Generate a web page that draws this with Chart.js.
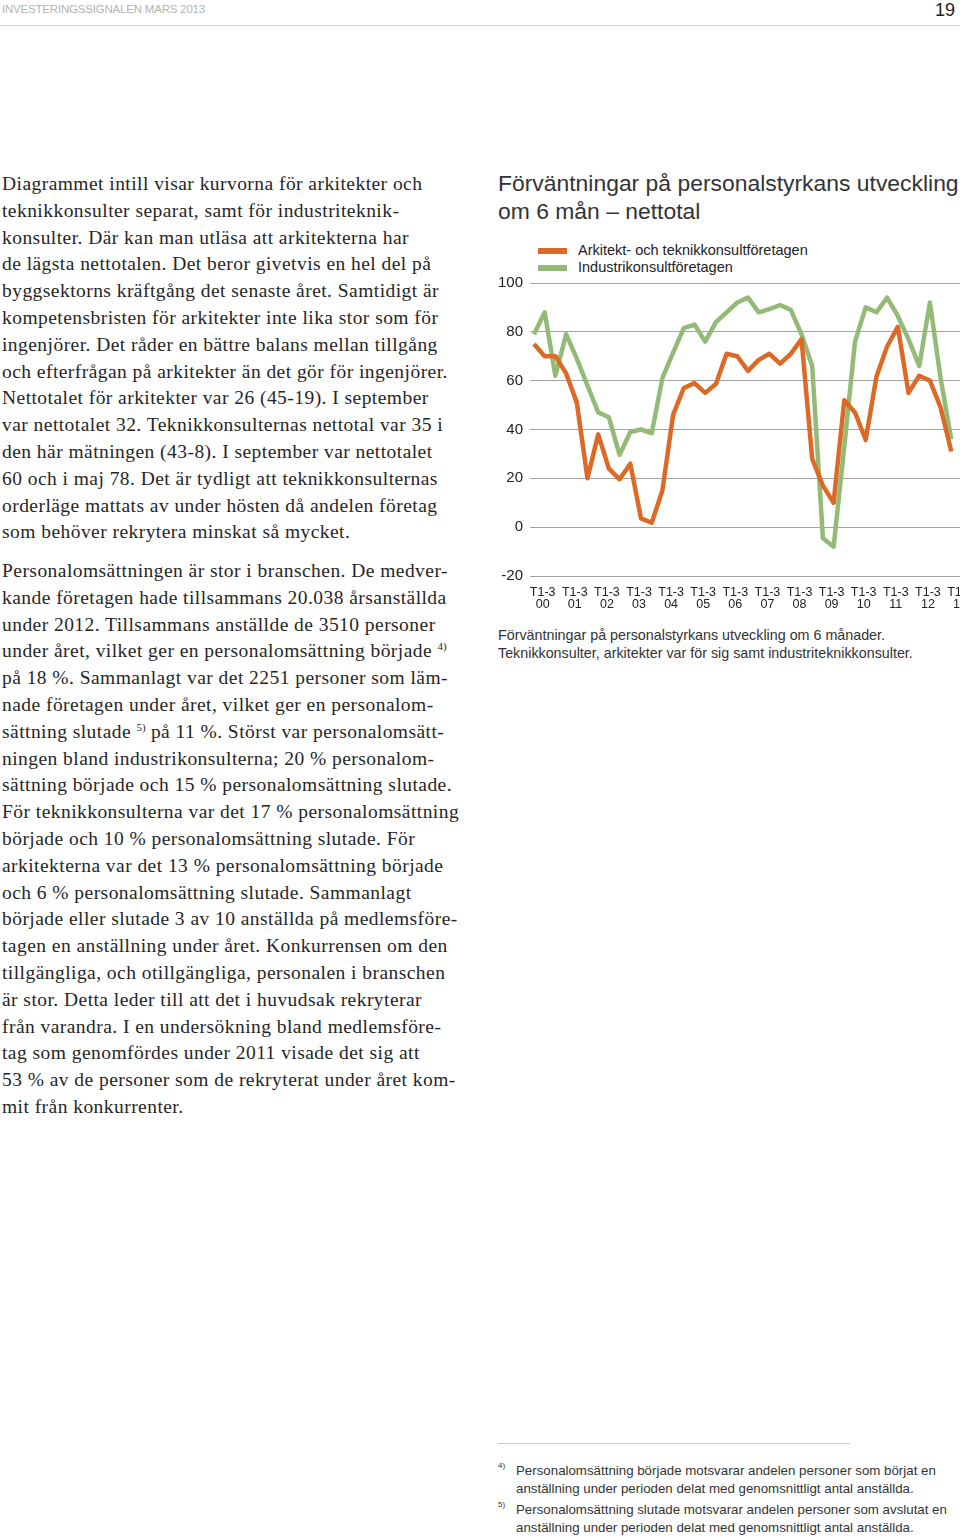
<!DOCTYPE html>
<html lang="sv">
<head>
<meta charset="utf-8">
<title>Investeringssignalen mars 2013 – sid 19</title>
<script src="https://cdn.jsdelivr.net/npm/chart.js@4.4.1/dist/chart.umd.min.js"></script>
<style>
    html, body { margin: 0; padding: 0; width: 960px; height: 1539px; overflow: hidden; background: #fff; }
    body { position: relative; font-family: "Liberation Sans", Arial, Helvetica, sans-serif; color: #2a2a2a; }
    .abs { position: absolute; }
    #head-left { left: 2px; top: 3px; font-size: 11.5px; color: #b4b4b4; letter-spacing: -0.2px; }
    #head-num { right: 5px; top: 0px; font-size: 18px; color: #222; }
    #head-rule { left: 0; top: 25px; width: 960px; height: 1px; background: #d0d0d0; }
    .serif { font-family: "Liberation Serif", "Times New Roman", serif; font-size: 19.5px; letter-spacing: 0.45px; line-height: 26.8px; color: #262626; white-space: nowrap; left: 2px; }
    #p1 { top: 171px; }
    #p2 { top: 558px; }
    sup { font-size: 11px; line-height: 0; vertical-align: 7px; letter-spacing: 0; }
    #title { left: 498px; top: 169px; font-size: 22.9px; line-height: 28px; color: #333; white-space: nowrap; }
    .legend-item { left: 538px; font-size: 14.5px; color: #222; white-space: nowrap; }
    .swatch { position: absolute; left: 0; top: 5px; width: 29px; height: 6px; }
    .legend-item span { position: absolute; left: 40px; top: -1px; }
    #chart-wrap { left: 496px; top: 240px; width: 464px; height: 380px; overflow: hidden; }
    #caption { left: 498px; top: 626px; font-size: 14.3px; line-height: 18px; color: #333; white-space: nowrap; }
    #foot-rule { left: 498px; top: 1443px; width: 352px; height: 1px; background: #cfcfcf; }
    .fn { left: 498px; font-size: 13.3px; line-height: 18px; color: #333; white-space: nowrap; }
    .fn b { position: absolute; left: 0; top: -5px; font-weight: normal; font-size: 8px; }
    .fn span { position: absolute; left: 18px; top: 0; }
</style>
</head>
<body>
<div class="abs" id="head-left">INVESTERINGSSIGNALEN MARS 2013</div>
<div class="abs" id="head-num">19</div>
<div class="abs" id="head-rule"></div>

<div class="abs serif" id="p1">Diagrammet intill visar kurvorna för arkitekter och<br>teknikkonsulter separat, samt för industriteknik-<br>konsulter. Där kan man utläsa att arkitekterna har<br>de lägsta nettotalen. Det beror givetvis en hel del på<br>byggsektorns kräftgång det senaste året. Samtidigt är<br>kompetensbristen för arkitekter inte lika stor som för<br>ingenjörer. Det råder en bättre balans mellan tillgång<br>och efterfrågan på arkitekter än det gör för ingenjörer.<br>Nettotalet för arkitekter var 26 (45-19). I september<br>var nettotalet 32. Teknikkonsulternas nettotal var 35 i<br>den här mätningen (43-8). I september var nettotalet<br>60 och i maj 78. Det är tydligt att teknikkonsulternas<br>orderläge mattats av under hösten då andelen företag<br>som behöver rekrytera minskat så mycket.</div>

<div class="abs serif" id="p2">Personalomsättningen är stor i branschen. De medver-<br>kande företagen hade tillsammans 20.038 årsanställda<br>under 2012. Tillsammans anställde de 3510 personer<br>under året, vilket ger en personalomsättning började <sup>4)</sup><br>på 18 %. Sammanlagt var det 2251 personer som läm-<br>nade företagen under året, vilket ger en personalom-<br>sättning slutade <sup>5)</sup> på 11 %. Störst var personalomsätt-<br>ningen bland industrikonsulterna; 20 % personalom-<br>sättning började och 15 % personalomsättning slutade.<br>För teknikkonsulterna var det 17 % personalomsättning<br>började och 10 % personalomsättning slutade. För<br>arkitekterna var det 13 % personalomsättning började<br>och 6 % personalomsättning slutade. Sammanlagt<br>började eller slutade 3 av 10 anställda på medlemsföre-<br>tagen en anställning under året. Konkurrensen om den<br>tillgängliga, och otillgängliga, personalen i branschen<br>är stor. Detta leder till att det i huvudsak rekryterar<br>från varandra. I en undersökning bland medlemsföre-<br>tag som genomfördes under 2011 visade det sig att<br>53 % av de personer som de rekryterat under året kom-<br>mit från konkurrenter.</div>

<div class="abs" id="title">Förväntningar på personalstyrkans utveckling<br>om 6 mån – nettotal</div>

<div class="abs legend-item" style="top:243px"><div class="swatch" style="background:#dc6a26"></div><span>Arkitekt- och teknikkonsultföretagen</span></div>
<div class="abs legend-item" style="top:260px"><div class="swatch" style="background:#93ba77"></div><span>Industrikonsultföretagen</span></div>

<div class="abs" id="chart-wrap"><canvas id="netto" width="466" height="380"></canvas></div>

<div class="abs" id="caption">Förväntningar på personalstyrkans utveckling om 6 månader.<br>Teknikkonsulter, arkitekter var för sig samt industriteknikkonsulter.</div>

<div class="abs" id="foot-rule"></div>
<div class="abs fn" style="top:1462px"><b>4)</b><span>Personalomsättning började motsvarar andelen personer som börjat en<br>anställning under perioden delat med genomsnittligt antal anställda.</span></div>
<div class="abs fn" style="top:1501px"><b>5)</b><span>Personalomsättning slutade motsvarar andelen personer som avslutat en<br>anställning under perioden delat med genomsnittligt antal anställda.</span></div>

<script>
    // tre mätningar per år, etikett vid första mätningen varje år
    const tickYears = ['00', '01', '02', '03', '04', '05', '06', '07', '08', '09', '10', '11', '12', '13'];
    const tickPrefix = 'T1-3';

    const arkitektTeknik = [
        75, 70, 70, 63, 51, 20, 38, 24, 19.6, 26,
        3.6, 1.8, 15, 46, 57, 59, 55, 58.6, 71, 70,
        64, 68.5, 71, 67, 71, 77, 28, 17, 10, 52,
        47, 35.7, 61.6, 74, 82, 55, 62, 60, 49, 31
    ];
    const industrikonsult = [
        79, 88, 62, 79, 69, 58, 47, 45, 29.6, 39,
        40, 38.5, 61, 71.5, 81.5, 83, 76, 84, 88, 92,
        94, 88, 89.3, 91, 89, 79, 66, -4.5, -8, 33,
        76, 90, 88, 94, 86.5, 77, 66, 92, 61, 36
    ];

    const yTicks = [-20, 0, 20, 40, 60, 80, 100];

    // kategorier: en per mätning, plus en sista plats för 13-etiketten
    let categories = [];
    for (let i = 0; i <= arkitektTeknik.length; i++) {
        categories.push((i - 1) % 3 === 0 ? tickPrefix + ' ' + tickYears[(i - 1) / 3] : '');
    }

    const ctx = document.getElementById('netto').getContext('2d');
    new Chart(ctx, {
        type: 'line',
        data: {
            labels: categories,
            datasets: [
                {
                    label: 'Arkitekt- och teknikkonsultföretagen',
                    data: arkitektTeknik,
                    borderColor: '#dc6a26',
                    backgroundColor: '#dc6a26',
                    borderWidth: 4.5,
                    pointRadius: 0,
                    tension: 0,
                    fill: false,
                },
                {
                    label: 'Industrikonsultföretagen',
                    data: industrikonsult,
                    borderColor: '#93ba77',
                    backgroundColor: '#93ba77',
                    borderWidth: 4.5,
                    pointRadius: 0,
                    tension: 0,
                    fill: false,
                }],
        },
        options: {
            responsive: false,
            animation: false,
            devicePixelRatio: 1,
            layout: {
                padding: { top: 43, right: 0, bottom: 0, left: 0 },
            },
            elements: {
                line: { borderJoinStyle: 'round', borderCapStyle: 'butt' },
            },
            plugins: {
                legend: { display: false },
                tooltip: { enabled: false },
            },
            scales: {
                x: {
                    type: 'category',
                    offset: false,
                    grid: { display: false },
                    border: { display: false },
                    ticks: {
                        autoSkip: false,
                        maxRotation: 0,
                        minRotation: 0,
                        padding: 2,
                        labelOffset: -2,
                        color: '#222',
                        font: { family: 'Liberation Sans, Arial, sans-serif', size: 12.5, lineHeight: 1.0 },
                        callback: function (value) {
                            let lbl = this.getLabelForValue(value);
                            return lbl ? lbl.split(' ') : '';
                        },
                    },
                    afterFit: function (scale) {
                        scale.height = 44;
                        scale.paddingLeft = 0;
                        scale.paddingRight = 0;
                    },
                },
                y: {
                    min: -20,
                    max: 100,
                    afterBuildTicks: function (scale) {
                        scale.ticks = yTicks.map(v => ({ value: v }));
                    },
                    grid: {
                        color: '#a3a3a3',
                        lineWidth: 1,
                        drawTicks: true,
                        tickLength: 4,
                        tickColor: '#a3a3a3',
                    },
                    border: { display: false },
                    ticks: {
                        padding: 7,
                        color: '#222',
                        font: { family: 'Liberation Sans, Arial, sans-serif', size: 15 },
                    },
                    afterFit: function (scale) {
                        scale.width = 38;
                        scale.paddingTop = 0;
                        scale.paddingBottom = 0;
                    },
                },
            },
        },
    });
</script>
</body>
</html>
